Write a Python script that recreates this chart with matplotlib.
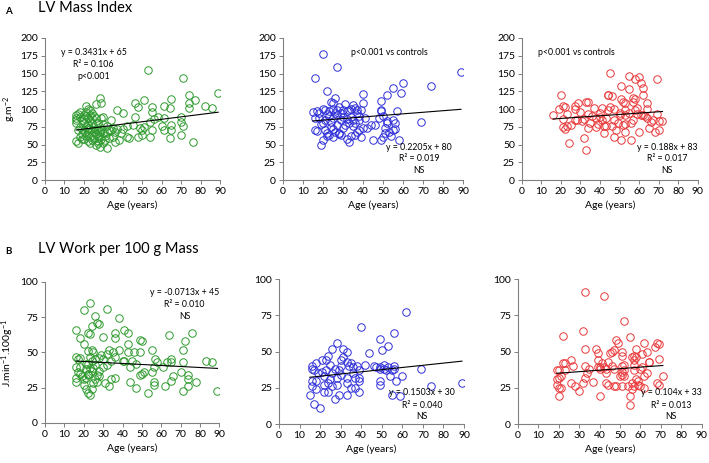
import numpy as np
import matplotlib
matplotlib.use('Agg')
import matplotlib.pyplot as plt

plt.rcParams['font.family'] = ['Lato', 'DejaVu Sans']
plt.rcParams['mathtext.default'] = 'regular'

# ---- panel A: LV mass index (g/m2) vs age ----
a1_age = [53, 71, 89, 74, 74, 74, 77, 65, 51, 46, 48, 28, 29, 26, 37, 40, 55, 55, 61, 64, 82, 86,
          58, 56, 46, 61, 70, 70, 71, 65, 60, 61, 65, 64, 70, 76, 54, 55, 54, 51, 50, 50, 48, 49,
          45, 42, 40, 39, 42, 43, 38, 36, 35, 34, 34, 32, 30, 32, 32, 28, 27, 30, 33,
          16, 16, 16, 16, 16, 17, 17, 18, 18, 18, 19, 19, 19, 20, 20, 20, 20, 20, 21, 21, 21, 21,
          21, 22, 22, 22, 22, 22, 23, 23, 23, 23, 23, 23, 24, 24, 24, 24, 24, 25, 25, 25, 25, 26,
          26, 26, 26, 27, 27, 27, 27, 28, 28, 28, 29, 29, 30, 30, 31, 33, 35, 36, 37, 31, 29, 22,
          18, 19, 24, 17]
a1_val = [155, 144, 123, 120, 108, 102, 113, 114, 113, 109, 103, 115, 109, 107, 99, 95, 103, 96,
          104, 102, 104, 101, 89, 86, 89, 88, 89, 82, 76, 78, 76, 71, 71, 59, 63, 54, 82, 71, 60,
          75, 71, 64, 60, 73, 78, 76, 72, 66, 60, 59, 56, 54, 61, 71, 85, 76, 79, 68, 45, 47, 52,
          52, 59,
          85, 88, 91, 80, 55, 52, 93, 60, 89, 96, 85, 72, 65, 92, 87, 80, 70, 58, 104, 96, 90, 75,
          62, 100, 88, 78, 68, 55, 98, 92, 84, 72, 60, 52, 95, 80, 70, 63, 57, 90, 75, 68, 58, 88,
          72, 65, 50, 80, 70, 62, 55, 75, 68, 60, 88, 72, 89, 66, 62, 70, 74, 68, 72, 56, 58, 73,
          75, 58, 87, 70]

a2_age = [20, 27, 16, 22, 60, 89, 74, 55, 59, 52, 40, 49, 26, 24, 25, 40, 31, 35, 15, 17, 18, 16,
          20, 21, 23, 25, 27, 28, 30, 32, 33, 34, 36, 37, 38, 38, 39, 49, 49, 50, 48, 52, 55, 56,
          57, 46, 42, 40, 36, 35, 34, 32, 30, 29, 27, 26, 25, 24, 23, 22, 21, 20, 19, 18, 16, 17,
          21, 22, 23, 24, 25, 26, 27, 28, 29, 30, 31, 32, 33, 34, 36, 37, 38, 39, 22, 25, 28, 20,
          19, 45, 49, 50, 51, 53, 55, 56, 58, 54, 69, 51, 52, 44, 33, 37, 41, 29, 35]
a2_val = [178, 159, 143, 126, 137, 152, 133, 130, 123, 120, 121, 112, 116, 110, 108, 109, 107, 106,
          96, 97, 95, 88, 100, 98, 97, 100, 98, 103, 98, 97, 99, 100, 101, 98, 90, 84, 98, 99, 97,
          90, 88, 83, 85, 80, 97, 78, 74, 73, 80, 76, 89, 86, 89, 85, 92, 94, 87, 82, 90, 93, 85,
          81, 79, 88, 70, 69, 70, 66, 63, 75, 72, 68, 77, 66, 63, 73, 78, 58, 53, 62, 63, 68, 70,
          60, 62, 60, 65, 57, 50, 57, 57, 60, 66, 68, 70, 72, 57, 62, 82, 73, 80, 78, 80, 95, 88,
          94, 84]

a3_age = [45, 55, 58, 60, 69, 51, 61, 62, 55, 44, 44, 20, 46, 62, 57, 58, 57, 51, 52, 53, 64, 33,
          34, 29, 27, 21, 22, 19, 16, 27, 37, 41, 40, 45, 47, 50, 50, 53, 53, 58, 59, 61, 62, 64,
          69, 67, 70, 72, 70, 68, 65, 64, 60, 57, 56, 53, 52, 53, 51, 56, 47, 48, 46, 43, 42, 42,
          40, 38, 39, 35, 34, 32, 31, 34, 32, 33, 24, 23, 22, 21, 23, 21, 27, 28, 43, 47, 36, 30,
          25, 41, 49, 55, 63, 66, 59, 44, 38]
a3_val = [151, 147, 142, 145, 142, 133, 136, 130, 128, 120, 120, 120, 118, 120, 115, 114, 110, 114,
          110, 108, 109, 110, 110, 108, 104, 104, 103, 100, 92, 100, 101, 101, 95, 103, 100, 95, 92,
          99, 92, 98, 93, 92, 92, 100, 93, 85, 83, 83, 71, 68, 74, 87, 68, 85, 81, 68, 78, 79, 57,
          56, 61, 71, 76, 76, 76, 66, 89, 75, 79, 81, 73, 86, 83, 93, 59, 42, 52, 76, 72, 75, 93,
          86, 85, 85, 88, 84, 90, 96, 78, 84, 80, 94, 90, 82, 102, 98, 88]

# ---- panel B: LV work per 100 g mass vs age ----
b1_age = [23, 20, 32, 38, 26, 27, 28, 24, 22, 23, 16, 18, 20, 30, 36, 36, 41, 43, 43, 49, 50, 55,
          64, 76, 72, 71, 83, 86, 89, 71, 74, 74, 74, 78, 71, 70, 65, 65, 65, 66, 62, 63, 61, 57,
          58, 56, 55, 56, 56, 53, 51, 50, 49, 47, 44, 45, 47, 44, 40, 41, 43, 46, 49, 38, 35, 36,
          33, 32, 34, 32, 36, 34, 33, 31, 30, 28, 27, 28, 29, 30, 26, 28, 26, 25, 24, 23, 22, 23,
          24, 22, 22, 24, 23, 20, 21, 16, 17, 16, 17, 16, 16, 18, 18, 20, 19, 21, 21, 22, 21, 25,
          26, 18, 24, 25, 27, 22]
b1_val = [85, 80, 81, 74, 76, 71, 70, 69, 64, 63, 66, 60, 56, 61, 60, 64, 66, 64, 56, 59, 58, 52,
          62, 64, 58, 52, 44, 43, 23, 23, 26, 34, 31, 29, 43, 36, 45, 43, 30, 33, 26, 43, 40, 45,
          43, 40, 36, 29, 27, 21, 36, 35, 34, 25, 29, 44, 42, 40, 44, 44, 50, 50, 50, 52, 50, 47,
          52, 49, 44, 41, 32, 31, 26, 28, 40, 37, 29, 33, 48, 45, 45, 46, 41, 50, 52, 47, 42, 39,
          37, 34, 21, 24, 20, 27, 24, 47, 45, 40, 36, 32, 29, 40, 35, 31, 33, 42, 38, 35, 32, 28,
          31, 46, 44, 39, 34, 51]

b2_age = [62, 56, 40, 49, 53, 50, 44, 28, 26, 31, 33, 24, 23, 21, 18, 16, 16, 17, 15, 17, 20, 27,
          29, 33, 39, 16, 16, 18, 21, 22, 22, 22, 24, 24, 25, 26, 26, 27, 28, 28, 29, 30, 30, 31,
          33, 34, 33, 33, 35, 36, 36, 37, 38, 39, 39, 39, 35, 37, 42, 46, 47, 49, 49, 49, 49, 51,
          51, 52, 53, 54, 55, 56, 56, 57, 60, 55, 59, 69, 74, 89, 18, 19, 23, 30, 25]
b2_val = [77, 63, 67, 59, 54, 51, 49, 56, 52, 52, 50, 47, 44, 44, 42, 40, 38, 37, 20, 14, 11, 17,
          20, 20, 22, 26, 30, 30, 36, 33, 27, 22, 28, 22, 31, 35, 26, 38, 32, 27, 37, 40, 44, 46,
          43, 40, 32, 28, 42, 39, 35, 32, 40, 37, 32, 30, 25, 25, 41, 40, 39, 39, 38, 30, 27, 41,
          38, 37, 39, 33, 37, 40, 38, 30, 33, 20, 19, 38, 26, 28, 24, 35, 37, 34, 41]

b3_age = [33, 42, 52, 32, 22, 55, 48, 49, 33, 38, 39, 46, 47, 45, 58, 62, 68, 69, 67, 63, 64, 64,
          51, 51, 56, 57, 61, 69, 22, 23, 26, 27, 23, 19, 20, 21, 20, 19, 19, 20, 20, 21, 26, 28,
          30, 32, 33, 34, 33, 35, 37, 39, 39, 40, 40, 41, 42, 43, 43, 44, 40, 43, 44, 46, 47, 47,
          48, 50, 51, 51, 52, 51, 52, 52, 51, 54, 56, 55, 55, 56, 57, 58, 59, 59, 60, 60, 61, 57,
          62, 63, 62, 68, 69, 71, 57, 58, 57]
b3_val = [91, 88, 71, 64, 61, 60, 58, 56, 52, 52, 49, 50, 51, 49, 52, 56, 56, 55, 53, 50, 43, 43,
          50, 47, 46, 44, 48, 45, 42, 42, 44, 40, 37, 37, 37, 33, 32, 31, 27, 25, 19, 25, 28, 26,
          23, 28, 32, 35, 40, 38, 29, 44, 39, 38, 39, 42, 39, 38, 35, 43, 19, 28, 27, 40, 38, 26,
          26, 33, 34, 36, 37, 40, 41, 33, 26, 26, 24, 19, 13, 28, 26, 31, 30, 27, 26, 38, 39, 37,
          33, 35, 25, 28, 27, 33, 41, 46, 47]

# regression lines as printed on the panels
a_slope = [0.3431, 0.2205, 0.188]
a_icpt = [65, 80, 83]
b_slope = [-0.0713, 0.1503, 0.104]
b_icpt = [45, 30, 33]
a_fit_txt = ['y = 0.3431x + 65', 'y = 0.2205x + 80', 'y = 0.188x + 83']
a_r2_txt = ['R² = 0.106', 'R² = 0.019', 'R² = 0.017']
a_p_txt = ['p<0.001', 'NS', 'NS']
b_fit_txt = ['y = -0.0713x + 45', 'y = 0.1503x + 30', 'y = 0.104x + 33']
b_r2_txt = ['R² = 0.010', 'R² = 0.040', 'R² = 0.013']
b_p_txt = ['NS', 'NS', 'NS']
vs_controls = 'p<0.001 vs controls'

colors = ['#2e9a2e', '#2f2fd8', '#e8383a']

fig = plt.figure(figsize=(7.09, 4.63), dpi=100)

# axes boxes in figure fractions (left, bottom, width, height)
a_boxes = [(0.0635, 0.611, 0.247, 0.307), (0.399, 0.611, 0.254, 0.307), (0.736, 0.611, 0.248, 0.307)]
b_boxes = [(0.0635, 0.0864, 0.246, 0.305), (0.3935, 0.0842, 0.261, 0.313), (0.7306, 0.0842, 0.259, 0.313)]


def style(ax, ymax, ystep):
  ax.set_xlim(0, 90)
  ax.set_ylim(0, ymax)
  ax.set_xticks(np.arange(0, 91, 10))
  ax.set_yticks(np.arange(0, ymax + 1, ystep))
  for s in ['top', 'right']:
    ax.spines[s].set_visible(False)
  for s in ['left', 'bottom']:
    ax.spines[s].set_color('#808080')
    ax.spines[s].set_linewidth(0.8)
  ax.tick_params(direction='out', length=3, width=0.7, color='#808080', labelsize=7.5, pad=2)
  ax.set_xlabel('Age (years)', fontsize=7.5, labelpad=3)
  ax.set_facecolor('none')


def scatter_panel(ax, age, val, color, slope, icpt):
  ax.plot(age, val, linestyle='None', marker='o', markersize=5.4, markerfacecolor='none',
          markeredgecolor=color, markeredgewidth=0.7)
  xs = np.array([min(age), max(age)])
  ax.plot(xs, slope * xs + icpt, color='black', linewidth=0.8)


a_data = [(a1_age, a1_val), (a2_age, a2_val), (a3_age, a3_val)]
b_data = [(b1_age, b1_val), (b2_age, b2_val), (b3_age, b3_val)]

for i in range(3):
  ax = fig.add_axes(a_boxes[i])
  scatter_panel(ax, a_data[i][0], a_data[i][1], colors[i], a_slope[i], a_icpt[i])
  style(ax, 200, 25)
  fs = 6.3
  if i == 0:
    ax.text(25, 180, a_fit_txt[i], ha='center', va='center', fontsize=fs)
    ax.text(25, 163, a_r2_txt[i], ha='center', va='center', fontsize=fs)
    ax.text(25, 146, a_p_txt[i], ha='center', va='center', fontsize=fs)
    ax.set_ylabel('g.m$^{-2}$', fontsize=7.5)
    ax.yaxis.set_label_coords(-0.155, 0.5)
  else:
    cx = 53 if i == 1 else 28
    ax.text(cx, 179, vs_controls, ha='center', va='center', fontsize=fs)
    tx = 68 if i == 1 else 74.5
    ax.text(tx, 46, a_fit_txt[i], ha='center', va='center', fontsize=fs)
    ax.text(tx, 30, a_r2_txt[i], ha='center', va='center', fontsize=fs)
    ax.text(tx, 13, a_p_txt[i], ha='center', va='center', fontsize=fs)

for i in range(3):
  ax = fig.add_axes(b_boxes[i])
  scatter_panel(ax, b_data[i][0], b_data[i][1], colors[i], b_slope[i], b_icpt[i])
  style(ax, 100, 25)
  fs = 6.3
  if i == 0:
    ax.text(72, 92.5, b_fit_txt[i], ha='center', va='center', fontsize=fs)
    ax.text(72, 84, b_r2_txt[i], ha='center', va='center', fontsize=fs)
    ax.text(72, 75.5, b_p_txt[i], ha='center', va='center', fontsize=fs)
    ax.set_ylabel('J.min$^{-1}$.100g$^{-1}$', fontsize=7.5)
    ax.yaxis.set_label_coords(-0.165, 0.5)
  else:
    tx = 69.5 if i == 1 else 75
    ax.text(tx, 22, b_fit_txt[i], ha='center', va='center', fontsize=fs)
    ax.text(tx, 13, b_r2_txt[i], ha='center', va='center', fontsize=fs)
    ax.text(tx, 5, b_p_txt[i], ha='center', va='center', fontsize=fs)

# panel letters and titles
fig.text(5 / 709, 1 - 11 / 463, 'A', fontsize=7, fontweight='bold', va='center')
fig.text(38 / 709, 1 - 8 / 463, 'LV Mass Index', fontsize=10.5, va='center')
fig.text(5 / 709, 1 - 252 / 463, 'B', fontsize=7, fontweight='bold', va='center')
fig.text(38 / 709, 1 - 249 / 463, 'LV Work per 100 g Mass', fontsize=10.5, va='center')

fig.savefig('out.png', dpi=100)
